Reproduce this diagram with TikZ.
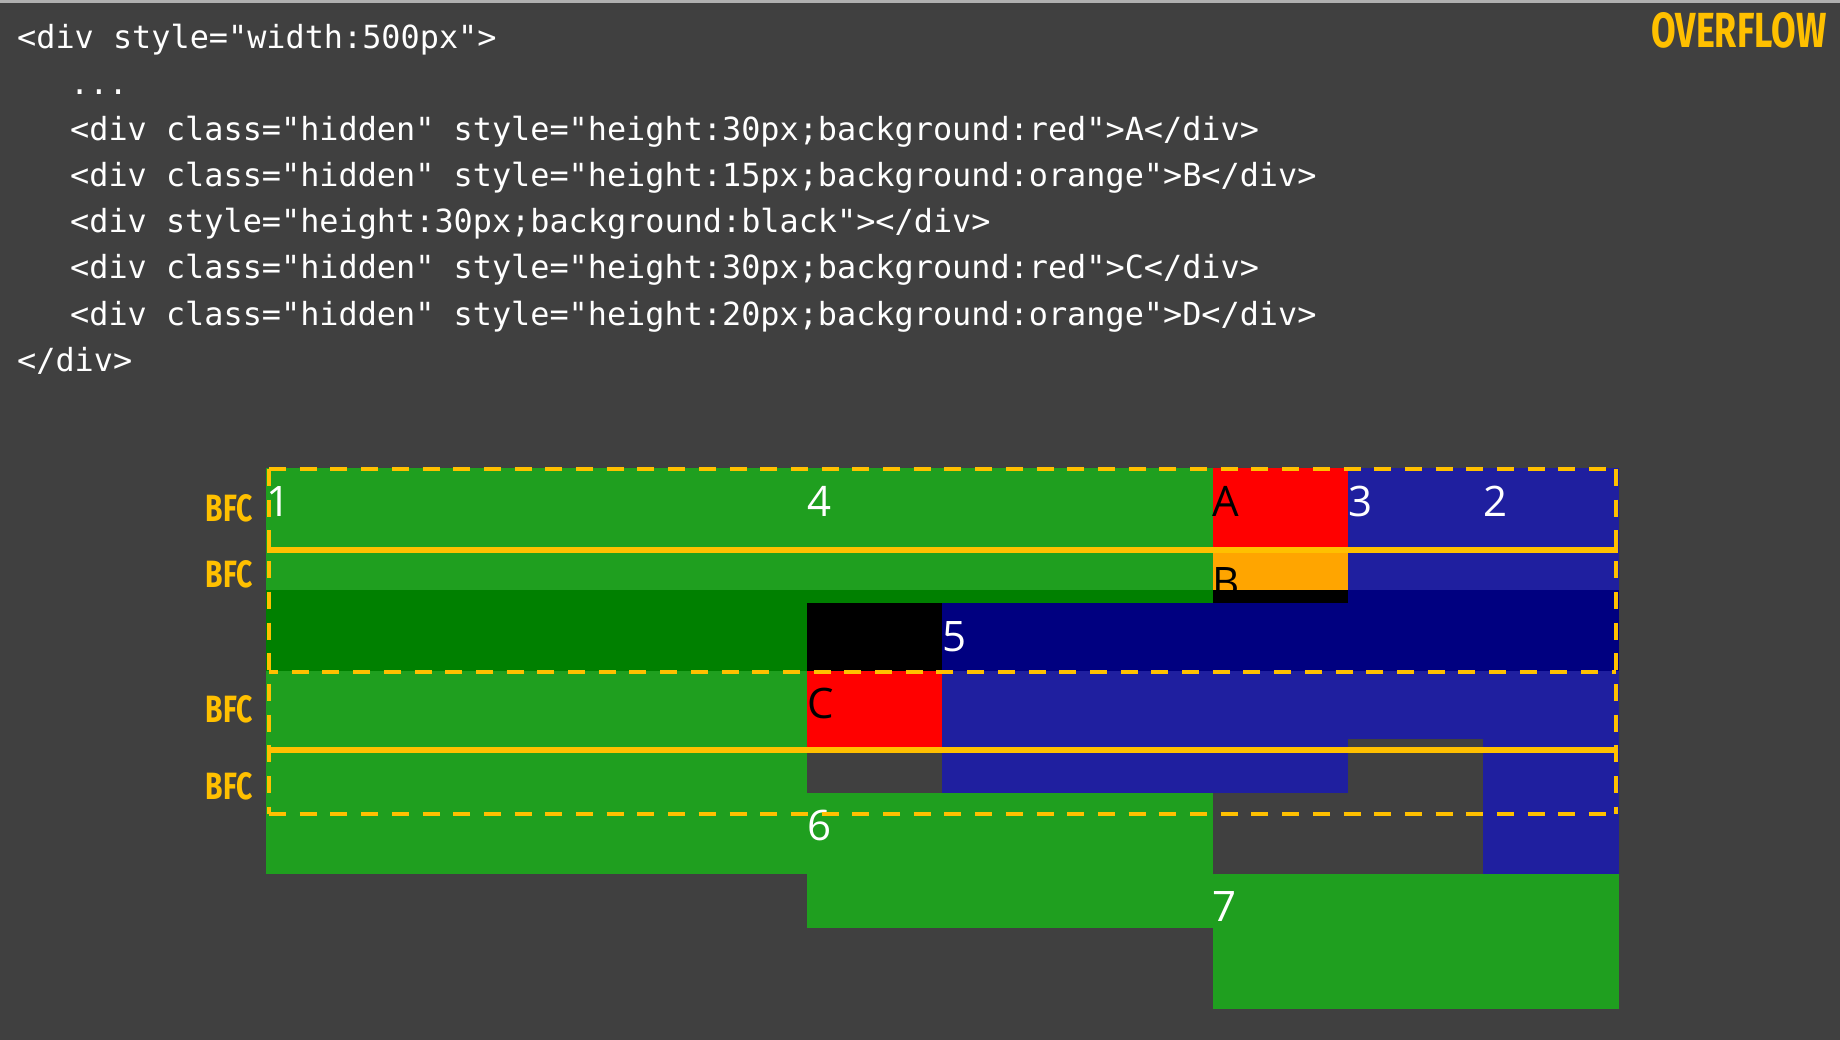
\documentclass[tikz,border=0pt]{standalone}
\usepackage{fontspec}
\usepackage{graphicx}
\newfontfamily\codefont{DejaVu Sans Mono}
\newfontfamily\labelfont{Open Sans}
\newfontfamily\brushfont{Fira Sans}
\definecolor{bg}{HTML}{404040}
\definecolor{topline}{HTML}{B0B0B0}
\definecolor{gold}{HTML}{FFC000}
\definecolor{floatgreen}{HTML}{00FF00}
\definecolor{floatblue}{HTML}{0000FF}
\definecolor{boxred}{HTML}{FF0000}
\definecolor{boxorange}{HTML}{FFA500}
\begin{document}
\begin{tikzpicture}[x=1pt,y=-1pt,
  code/.style={anchor=base west, inner sep=0pt, text=white,
    font=\codefont\fontsize{31.85}{36}\selectfont},
  num/.style={anchor=base west, inner sep=0pt, text=white,
    font=\labelfont\fontsize{42}{48}\selectfont},
  letter/.style={num, text=black},
  bfcdash/.style={draw=gold, line width=4pt, dash pattern=on 17pt off 13.7pt},
  bfcsolid/.style={draw=gold, line width=5.5pt},
  bfctag/.style={anchor=south east, inner sep=0pt, text=gold},
  gfloat/.style={fill=floatgreen, fill opacity=0.5},
  bfloat/.style={fill=floatblue, fill opacity=0.5}]

% canvas
\useasboundingbox (0,0) rectangle (1840,1040);
\fill[bg] (0,0) rectangle (1840,1040);
\fill[topline] (0,0) rectangle (1840,3);

% source listing
\node[code] (c0) at (17,48.5)  {<div style="width:500px">};
\node[code] (c1) at (70,94.6)  {...};
\node[code] (c2) at (70,140.7) {<div class="hidden" style="height:30px;background:red">A</div>};
\node[code] (c3) at (70,186.8) {<div class="hidden" style="height:15px;background:orange">B</div>};
\node[code] (c4) at (70,232.9) {<div style="height:30px;background:black"></div>};
\node[code] (c5) at (70,279.0) {<div class="hidden" style="height:30px;background:red">C</div>};
\node[code] (c6) at (70,325.1) {<div class="hidden" style="height:20px;background:orange">D</div>};
\node[code] (c7) at (17,371.2) {</div>};

% title
\node[anchor=south west, inner sep=0pt, text=gold] (title) at (1651,49)
  {\resizebox{175pt}{35pt}{\brushfont\bfseries OVERFLOW}};

% rendered layout, in CSS pixels of the 500px container
\begin{scope}[shift={(266,468)}, x=2.705pt, y=-2.705pt]
  % in-flow blocks
  \fill[black]     (0,45)   rectangle (500,75);
  \fill[boxred]    (350,0)  rectangle (400,30);
  \fill[boxorange] (350,30) rectangle (400,45);
  \fill[boxred]    (200,75) rectangle (250,105);
  % floats
  \fill[gfloat] (0,0)     rectangle (200,150);
  \fill[gfloat] (200,0)   rectangle (350,50);
  \fill[bfloat] (400,0)   rectangle (450,100);
  \fill[bfloat] (450,0)   rectangle (500,150);
  \fill[bfloat] (250,50)  rectangle (400,120);
  \fill[gfloat] (200,120) rectangle (350,170);
  \fill[gfloat] (350,150) rectangle (500,200);
  % contents
  \node[num]    (n1) at (0,17.75)    {1};
  \node[num]    (n4) at (200,17.75)  {4};
  \node[letter] (lA) at (350,17.75)  {A};
  \node[num]    (n3) at (400,17.75)  {3};
  \node[num]    (n2) at (450,17.75)  {2};
  \begin{scope}
    \clip (350,30) rectangle (400,45);
    \node[letter] (lB) at (350,47.75) {B};
  \end{scope}
  \node[num]    (n5) at (250,67.75)  {5};
  \node[letter] (lC) at (200,92.75)  {C};
  \node[num]    (n6) at (200,137.75) {6};
  \node[num]    (n7) at (350,167.75) {7};
\end{scope}

% block formatting contexts: outer edges dashed, shared edges of
% touching contexts drawn solid
\coordinate (tl) at (269,469);
\coordinate (tr) at (1616,469);
\coordinate (bl) at (269,814);
\coordinate (br) at (1616,814);
\draw[bfcdash] (tl) -- (tr);
\draw[bfcdash] (tl) -- (bl);
\draw[bfcdash] (tr) -- (br);
\draw[bfcdash] (bl) -- (br);
\draw[bfcdash, dash phase=8pt] (269,672) -- (1616,672);
\draw[bfcsolid] (267,550) -- (1618,550);
\draw[bfcsolid] (267,750) -- (1618,750);

\node[bfctag] (t1) at (253,522)   {\resizebox{47pt}{27pt}{\brushfont\bfseries BFC}};
\node[bfctag] (t2) at (253,588)   {\resizebox{47pt}{27pt}{\brushfont\bfseries BFC}};
\node[bfctag] (t3) at (253,723.5) {\resizebox{47pt}{27pt}{\brushfont\bfseries BFC}};
\node[bfctag] (t4) at (253,800.5) {\resizebox{47pt}{27pt}{\brushfont\bfseries BFC}};
\end{tikzpicture}
\end{document}
